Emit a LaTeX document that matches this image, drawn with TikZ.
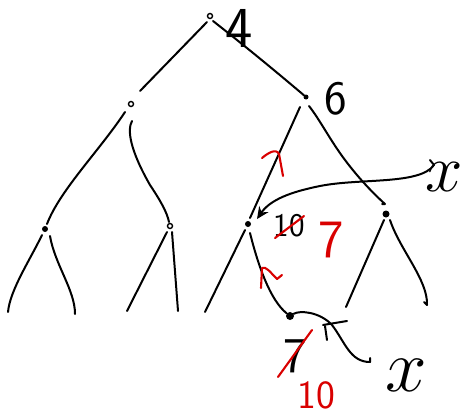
\documentclass[tikz,border=0pt]{standalone}
\usepackage{graphicx}
\usetikzlibrary{arrows.meta}
\begin{document}
\begin{tikzpicture}[x=1pt,y=-1pt,
  pen/.style={line width=2pt,line cap=round,line join=round,black},
  redpen/.style={line width=2.1pt,line cap=round,line join=round,red!85!black},
  lbl/.style={inner sep=0pt,anchor=center,font=\sffamily},
  opendot/.style={circle,draw,line width=1.4pt,inner sep=0pt,minimum size=5pt},
  filldot/.style={circle,fill,inner sep=0pt,minimum size=6pt}]
\useasboundingbox (0,0) rectangle (462,415);
% nodes (dots)
\node[opendot] (r) at (210,16) {};
\node[opendot] (a) at (131,104) {};
\node[filldot,minimum size=5pt] (b) at (306,97) {};
\node[filldot,minimum size=6pt] (aa) at (45,229) {};
\node[opendot,minimum size=5pt] (ab) at (170,226) {};
\node[filldot] (ba) at (248,224) {};
\node[filldot,minimum size=7pt] (bb) at (386,214) {};
\node[filldot,minimum size=8pt] (bab) at (290,316) {};
% leaf ends
\coordinate (l1) at (8,312);
\coordinate (l2) at (75,314);
\coordinate (l3) at (127,311);
\coordinate (l4) at (178,311);
\coordinate (l5) at (205,312);
\coordinate (l6) at (346,307);
\coordinate (l7) at (427,305);
% edges
\draw[pen] (207,22) -- (140,91);
\draw[pen] (r) ++(3,5) .. controls (250,50) and (280,75) .. (b);
\draw[pen] (125,112) .. controls (100,150) and (60,190) .. (47,224);
\draw[pen] (132,121) .. controls (127,130) and (130,150) .. (150,185) .. controls (160,200) and (167,212) .. (169,222);
\draw[pen] (42,235) .. controls (30,260) and (10,290) .. (l1);
\draw[pen] (50,236) .. controls (55,265) and (75,290) .. (l2);
\draw[pen] (167,232) -- (l3);
\draw[pen] (172,232) -- (l4);
\draw[pen] (300,107) -- (250,218);
\draw[pen] (309,106) .. controls (320,120) and (330,140) .. (345,160) .. controls (360,180) and (375,195) .. (385,204) -- (382,204);
\draw[pen] (245,230) -- (l5);
\draw[pen] (250,233) .. controls (258,265) and (270,300) .. (bab);
\draw[pen] (384,220) -- (l6);
\draw[pen] (390,220) .. controls (400,250) and (428,280) .. (l7) -- (424,302);
% T mark
\draw[pen] (323,325) -- (347,321);
\draw[pen] (325,326) -- (327,340);
% curly arrow from node 7 to lower x
\draw[pen] (bab) .. controls (300,310) and (320,312) .. (332,325) .. controls (345,342) and (350,362) .. (370,362) -- (370,358);
% x labels
\node[lbl] (x1) at (444,177) {\scalebox{2.7}{\fontsize{24.88}{26}\selectfont$x$}};
\node[lbl] (x2) at (406,375) {\scalebox{3}{\fontsize{24.88}{26}\selectfont$x$}};
\draw[pen,-{Stealth[length=12pt,width=11pt]}] (430,160) -- (434,165) .. controls (420,185) and (360,178) .. (320,186) .. controls (290,192) and (270,200) .. (257,219);
% labels
\node[lbl,font=\sffamily\fontsize{58}{58}\selectfont] (t4) at (239,28) {4};
\node[lbl,font=\sffamily\fontsize{48}{48}\selectfont] (t6) at (336,99) {6};
\node[lbl,font=\sffamily\fontsize{33}{33}\selectfont] (t10) at (289,226) {10};
\draw[redpen] (275,238) -- (304,216);
\node[lbl,font=\sffamily\fontsize{54}{54}\selectfont,text=red!85!black] (t7r) at (331,240) {7};
\node[lbl,font=\sffamily\fontsize{50}{50}\selectfont] (t7) at (295,356) {7};
\draw[redpen] (278,377) -- (312,330);
\node[lbl,font=\sffamily\fontsize{40}{40}\selectfont,text=red!85!black] (t10r) at (316,395) {10};
% red swap marks
\draw[redpen] (262,158) .. controls (268,153) and (276,148) .. (279,154) -- (283,176);
\draw[redpen] (261,288) -- (262,268) .. controls (266,266) and (270,272) .. (277,279) -- (282,275);
\end{tikzpicture}
\end{document}
